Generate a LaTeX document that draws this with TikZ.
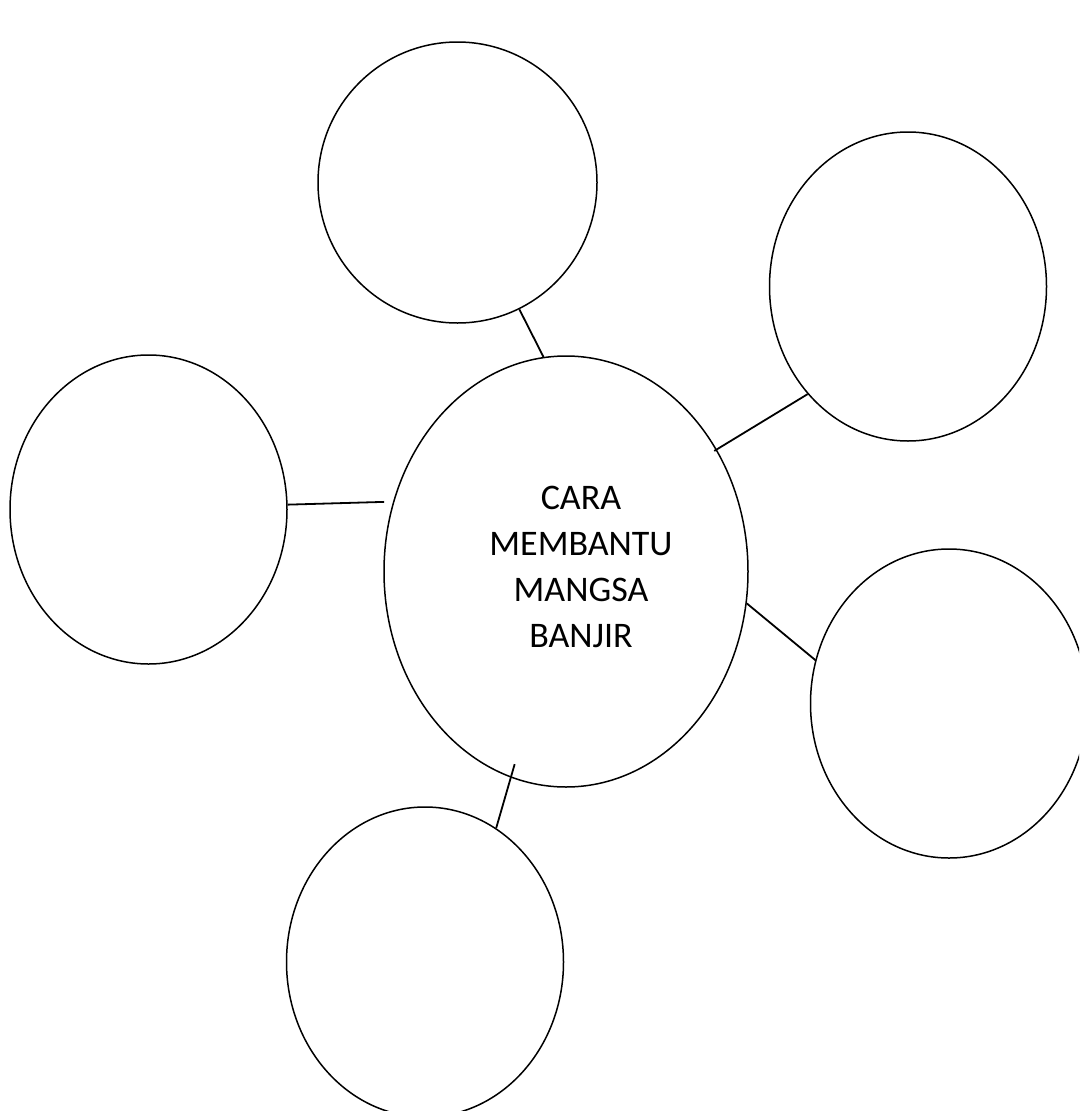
\documentclass[tikz,border=0pt]{standalone}
\usepackage{fontspec}
\setmainfont{Carlito}
\usetikzlibrary{shapes.geometric}

\begin{document}
\begin{tikzpicture}[
  x=1pt,y=-1pt,
  bubble/.style={draw,ellipse,line width=1.5pt,inner sep=0pt,minimum width=277pt,minimum height=309pt},
  link/.style={line width=1.8pt},
  title/.style={align=center,inner sep=0pt,font=\fontsize{36}{46}\selectfont}
]
\useasboundingbox (0,0) rectangle (1079,1111);
\clip (0,0) rectangle (1079,1111);
\node[bubble,minimum width=364pt,minimum height=431pt] (hub) at (566,571.5) {};
\node[title] (topic) at (581,567) {CARA\\MEMBANTU\\MANGSA\\BANJIR};
\node[bubble,minimum width=279pt,minimum height=281pt] (top) at (457.5,182.5) {};
\node[bubble] (upright) at (908,286.5) {};
\node[bubble] (left) at (148.5,509.5) {};
\node[bubble] (right) at (949,703.5) {};
\node[bubble,minimum height=310pt] (bottom) at (425,962) {};
\draw[link] (top.296.7) -- (hub.96.6);
\draw[link,shorten >=-3pt] (upright.227.9) -- (hub.39.1);
\draw[link,shorten >=9pt] (left.2.3) -- (hub.158.6);
\draw[link] (hub.350.2) -- (right.162.3);
\draw[link,shorten >=-14pt] (bottom.62.2) -- (hub.255.3);
\end{tikzpicture}
\end{document}
